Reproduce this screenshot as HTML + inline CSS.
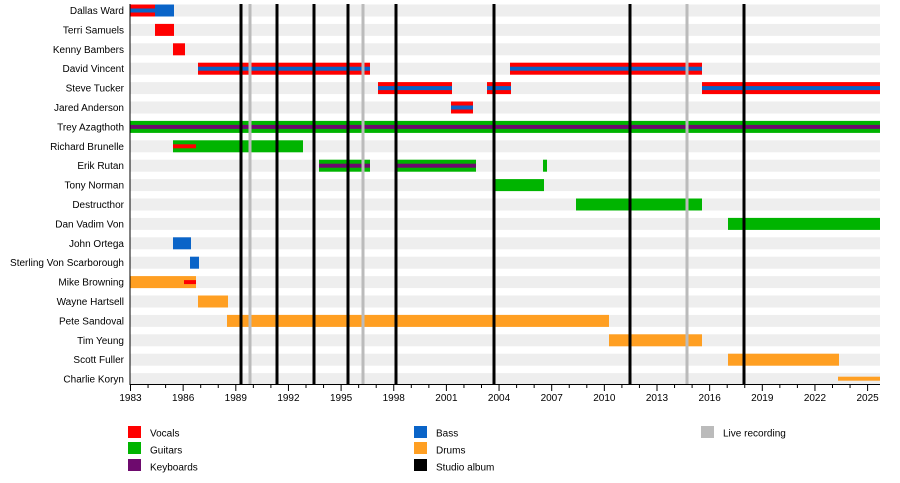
<!DOCTYPE html>
<html><head><meta charset="utf-8"><style>
html,body{margin:0;padding:0;background:#fff}
svg{display:block;font-family:"Liberation Sans",Arial,sans-serif}
</style></head><body>
<svg width="900" height="483" viewBox="0 0 900 483" xmlns="http://www.w3.org/2000/svg">
<g fill="#eeeeee">
<rect x="130" y="4.5" width="750" height="12"/>
<rect x="130" y="23.9" width="750" height="12"/>
<rect x="130" y="43.3" width="750" height="12"/>
<rect x="130" y="62.7" width="750" height="12"/>
<rect x="130" y="82.1" width="750" height="12"/>
<rect x="130" y="101.5" width="750" height="12"/>
<rect x="130" y="120.9" width="750" height="12"/>
<rect x="130" y="140.3" width="750" height="12"/>
<rect x="130" y="159.7" width="750" height="12"/>
<rect x="130" y="179.1" width="750" height="12"/>
<rect x="130" y="198.5" width="750" height="12"/>
<rect x="130" y="217.9" width="750" height="12"/>
<rect x="130" y="237.3" width="750" height="12"/>
<rect x="130" y="256.7" width="750" height="12"/>
<rect x="130" y="276.1" width="750" height="12"/>
<rect x="130" y="295.5" width="750" height="12"/>
<rect x="130" y="314.9" width="750" height="12"/>
<rect x="130" y="334.3" width="750" height="12"/>
<rect x="130" y="353.7" width="750" height="12"/>
<rect x="130" y="373.1" width="750" height="12"/>
</g>
<g font-size="10" fill="#000" text-anchor="end">
<text x="124" y="14">Dallas Ward</text>
<text x="124" y="33.4">Terri Samuels</text>
<text x="124" y="52.8">Kenny Bambers</text>
<text x="124" y="72.2">David Vincent</text>
<text x="124" y="91.6">Steve Tucker</text>
<text x="124" y="111">Jared Anderson</text>
<text x="124" y="130.4">Trey Azagthoth</text>
<text x="124" y="149.8">Richard Brunelle</text>
<text x="124" y="169.2">Erik Rutan</text>
<text x="124" y="188.6">Tony Norman</text>
<text x="124" y="208">Destructhor</text>
<text x="124" y="227.4">Dan Vadim Von</text>
<text x="124" y="246.8">John Ortega</text>
<text x="124" y="266.2">Sterling Von Scarborough</text>
<text x="124" y="285.6">Mike Browning</text>
<text x="124" y="305">Wayne Hartsell</text>
<text x="124" y="324.4">Pete Sandoval</text>
<text x="124" y="343.8">Tim Yeung</text>
<text x="124" y="363.2">Scott Fuller</text>
<text x="124" y="382.6">Charlie Koryn</text>
</g>
<!-- bars -->
<g>
<rect x="130" y="4.5" width="25" height="12" fill="#ff0000"/><rect x="130" y="8.5" width="25" height="4" fill="#0a64c8"/><rect x="155" y="4.5" width="19" height="12" fill="#0a64c8"/>
<rect x="155" y="23.9" width="19" height="12" fill="#ff0000"/>
<rect x="173" y="43.3" width="12" height="12" fill="#ff0000"/>
<rect x="198" y="62.7" width="172" height="12" fill="#ff0000"/><rect x="198" y="66.7" width="172" height="4" fill="#0a64c8"/>
<rect x="510" y="62.7" width="192" height="12" fill="#ff0000"/><rect x="510" y="66.7" width="192" height="4" fill="#0a64c8"/>
<rect x="378" y="82.1" width="74" height="12" fill="#ff0000"/><rect x="378" y="86.1" width="74" height="4" fill="#0a64c8"/>
<rect x="487" y="82.1" width="24" height="12" fill="#ff0000"/><rect x="487" y="86.1" width="24" height="4" fill="#0a64c8"/>
<rect x="702" y="82.1" width="178" height="12" fill="#ff0000"/><rect x="702" y="86.1" width="178" height="4" fill="#0a64c8"/>
<rect x="451" y="101.5" width="22" height="12" fill="#ff0000"/><rect x="451" y="105.5" width="22" height="4" fill="#0a64c8"/>
<rect x="130" y="120.9" width="750" height="12" fill="#00b400"/><rect x="130" y="124.9" width="750" height="4" fill="#6e0a6e"/>
<rect x="173" y="140.3" width="130" height="12" fill="#00b400"/><rect x="173" y="144.3" width="23" height="4" fill="#ff0000"/>
<rect x="319" y="159.7" width="51" height="12" fill="#00b400"/><rect x="319" y="163.7" width="51" height="4" fill="#6e0a6e"/>
<rect x="397" y="159.7" width="79" height="12" fill="#00b400"/><rect x="397" y="163.7" width="79" height="4" fill="#6e0a6e"/>
<rect x="543" y="159.7" width="4" height="12" fill="#00b400"/>
<rect x="494" y="179.1" width="50" height="12" fill="#00b400"/>
<rect x="576" y="198.5" width="126" height="12" fill="#00b400"/>
<rect x="728" y="217.9" width="152" height="12" fill="#00b400"/>
<rect x="173" y="237.3" width="18" height="12" fill="#0a64c8"/>
<rect x="190" y="256.7" width="9" height="12" fill="#0a64c8"/>
<rect x="130" y="276.1" width="66" height="12" fill="#ff9f22"/><rect x="184" y="280.1" width="12" height="4" fill="#ff0000"/>
<rect x="198" y="295.5" width="30" height="12" fill="#ff9f22"/>
<rect x="227" y="314.9" width="382" height="12" fill="#ff9f22"/>
<rect x="609" y="334.3" width="93" height="12" fill="#ff9f22"/>
<rect x="728" y="353.7" width="111" height="12" fill="#ff9f22"/>
<rect x="838" y="376.7" width="42" height="4" fill="#ff9f22"/>
</g>
<!-- album lines -->
<g stroke="#bbbbbb" stroke-width="3">
<line x1="250" y1="4" x2="250" y2="384"/><line x1="363" y1="4" x2="363" y2="384"/><line x1="687" y1="4" x2="687" y2="384"/>
</g>
<g stroke="#000" stroke-width="3">
<line x1="241" y1="4" x2="241" y2="384"/><line x1="277" y1="4" x2="277" y2="384"/><line x1="314" y1="4" x2="314" y2="384"/><line x1="348" y1="4" x2="348" y2="384"/><line x1="396" y1="4" x2="396" y2="384"/><line x1="494" y1="4" x2="494" y2="384"/><line x1="630" y1="4" x2="630" y2="384"/><line x1="744" y1="4" x2="744" y2="384"/>
</g>
<line x1="130" y1="4" x2="130" y2="385" stroke="#000" stroke-width="1"/>
<line x1="130" y1="384.5" x2="880" y2="384.5" stroke="#000" stroke-width="1"/>
<g stroke="#000" stroke-width="1" id="ticks"></g>
<g font-size="10" text-anchor="middle" fill="#000" id="labels"></g>
<script>
(function(){var t=document.getElementById('ticks'),l=document.getElementById('labels'),ns='http://www.w3.org/2000/svg';
for(var y=1983;y<=2025;y++){var x=130.5+(y-1983)*17.55;var maj=(y-1983)%3==0;var e=document.createElementNS(ns,'line');e.setAttribute('x1',x);e.setAttribute('x2',x);e.setAttribute('y1',384);e.setAttribute('y2',maj?391:388);t.appendChild(e);
if(maj){var s=document.createElementNS(ns,'text');s.setAttribute('x',x);s.setAttribute('y',401);s.textContent=y;l.appendChild(s);}}})();
</script>
<!-- legend -->
<g font-size="10" fill="#000">
<rect x="128" y="426" width="13" height="12" fill="#ff0000"/><text x="150" y="436.5">Vocals</text>
<rect x="128" y="442" width="13" height="12" fill="#00b400"/><text x="150" y="453.5">Guitars</text>
<rect x="128" y="459" width="13" height="12" fill="#6e0a6e"/><text x="150" y="470.5">Keyboards</text>
<rect x="414" y="426" width="13" height="12" fill="#0a64c8"/><text x="436" y="436.5">Bass</text>
<rect x="414" y="442" width="13" height="12" fill="#ff9f22"/><text x="436" y="453.5">Drums</text>
<rect x="414" y="459" width="13" height="12" fill="#000"/><text x="436" y="470.5">Studio album</text>
<rect x="701" y="426" width="13" height="12" fill="#bbbbbb"/><text x="723" y="436.5">Live recording</text>
</g>
</svg>
</body></html>
